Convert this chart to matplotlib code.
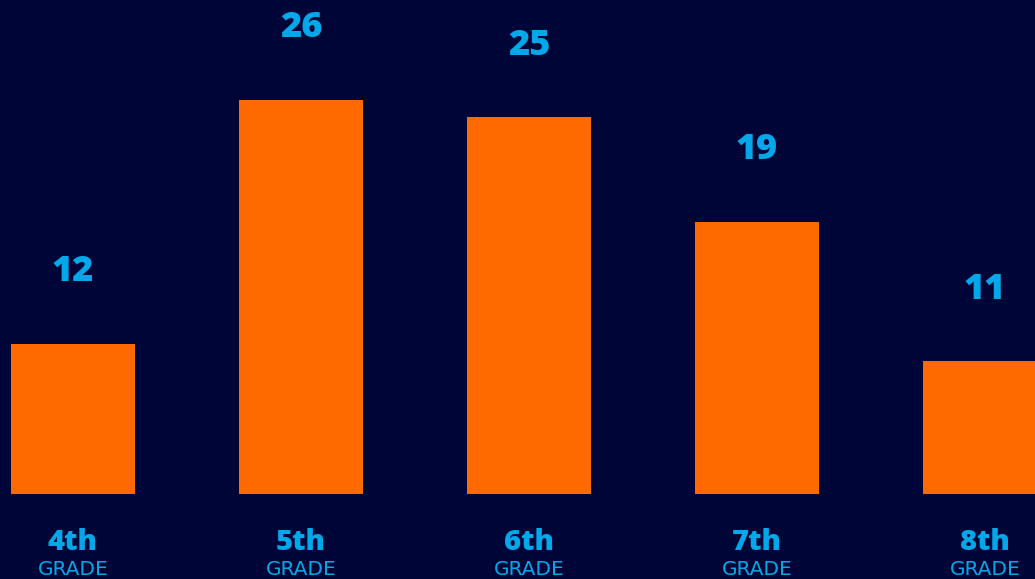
import matplotlib
matplotlib.use("Agg")
import matplotlib.pyplot as plt

grades = ["4th", "5th", "6th", "7th", "8th"]
sub_label = "GRADE"
counts = [12, 26, 25, 19, 11]

bg = "#000538"
bar_color = "#FF6A00"
text_color = "#00A8EA"

fig = plt.figure(figsize=(10.35, 5.79), dpi=100, facecolor=bg)
# axes from the bar baseline (y=494px) up to the top edge
ax = fig.add_axes([0, 85 / 579, 1, 494 / 579])
ax.set_facecolor(bg)

base = 3.385
x = list(range(len(grades)))
ax.bar(x, counts, width=0.544, color=bar_color)
ax.set_xlim(-0.32, 4.219)
ax.set_ylim(base, 31.73)
ax.axis("off")

for xi, v in zip(x, counts):
    ax.annotate(str(v), (xi, v), xytext=(0, 51.5), textcoords="offset points",
                ha="center", va="center", color=text_color, fontsize=26,
                fontweight="heavy", family="Open Sans", annotation_clip=False)

for xi, g in zip(x, grades):
    ax.annotate(g, (xi, base), xytext=(0, -35), textcoords="offset points",
                ha="center", va="center", color=text_color, fontsize=21,
                fontweight="heavy", family="Open Sans", annotation_clip=False)
    ax.annotate(sub_label, (xi, base), xytext=(0, -54.5), textcoords="offset points",
                ha="center", va="center", color=text_color, fontsize=14.5,
                family="DejaVu Sans", annotation_clip=False)

fig.savefig("out.png", dpi=100, facecolor=bg)
